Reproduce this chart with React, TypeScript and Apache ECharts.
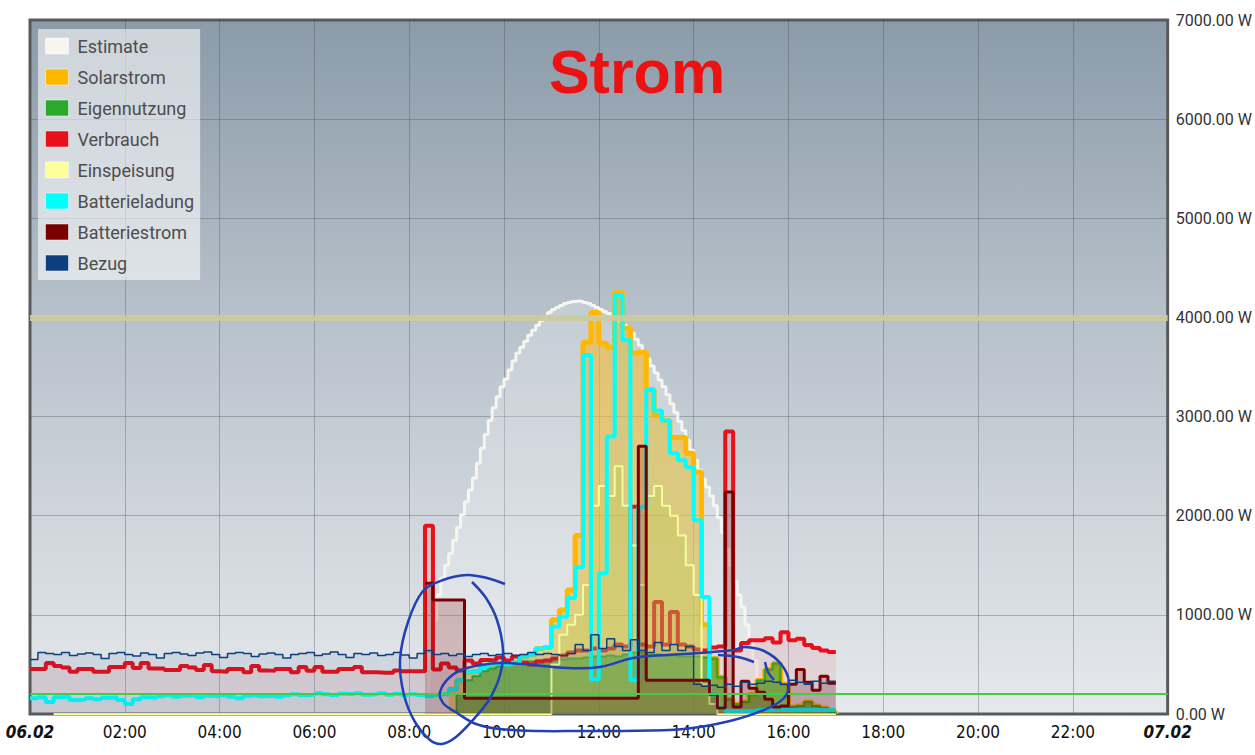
import React, { useEffect, useRef } from "react";
import * as echarts from "echarts";

// 10-minute slots from 00:00 (index k -> k/6 h)
const verbrauch = [
  455, 455, 515, 485, 470, 425, 455, 455, 425, 425,
  475, 475, 515, 465, 515, 460, 460, 445, 445, 485,
  470, 445, 495, 430, 425, 455, 455, 420, 485, 440,
  435, 455, 455, 420, 475, 435, 475, 425, 425, 455,
  455, 475, 420, 420, 415, 415, 440, 430, 430, 430,
  1900, 450, 510, 470, 440, 540, 510, 545, 540, 570,
  540, 580, 520, 500, 530, 540, 560, 590, 620, 640,
  640, 660, 640, 660, 700, 680, 2090, 700, 680, 1130,
  700, 1030, 700, 680, 650, 640, 670, 680, 2850, 640,
  715, 745, 745, 765, 720, 825, 745, 760, 695, 665,
  640, 625, 625,
];

const bezug = [
  550, 620, 610, 600, 620, 590, 605, 615, 600, 560,
  610, 620, 600, 585, 615, 600, 565, 610, 620, 605,
  590, 615, 625, 600, 570, 610, 620, 610, 580, 605,
  615, 600, 565, 600, 610, 620, 590, 605, 625, 600,
  570, 610, 600, 615, 590, 600, 620, 595, 565, 610,
  640, 600, 610, 590, 605, 580, 600, 610, 590, 600,
  610, 590, 600, 620, 600, 610, 600, 590, 610, 700,
  640, 800, 660, 760, 680, 640, 750, 640, 620, 720,
  640, 700, 640, 680, 300, 280, 290, 270, 300, 280,
  320, 300, 310, 330, 320, 300, 340, 320, 300, 330,
  310, 330, 330,
];

const batterieladung = [
  160, 170, 120, 170, 175, 140, 145, 160, 150, 165,
  170, 140, 100, 150, 170, 165, 180, 190, 175, 185,
  190, 170, 185, 180, 190, 175, 160, 185, 190, 180,
  185, 175, 190, 200, 190, 195, 210, 200, 190, 205,
  200, 210, 195, 200, 210, 195, 205, 190, 200, 190,
  180, 190, 200, 250, 340, 420, 430, 475, 500, 510,
  500, 520, 580, 600, 660, 670, 880, 980, 1170, 1480,
  3620, 350, 1420, 2800, 4220, 3770, 340, 2090, 3270, 3060,
  2960, 2630, 2560, 2490, 1955, 1180, 200, 60, 30, 30,
  30, 30, 40, 40, 40, 40, 40, 40, 40, 40,
  40, 40, 40,
];

// starts at slot 3 (00:30)
const eigennutzung = [
  0, 0, 0, 0, 0, 0, 0, 0, 0, 0, 0, 0, 0, 0, 0, 0, 0, 0, 0, 0,
  0, 0, 0, 0, 0, 0, 0, 0, 0, 0, 0, 0, 0, 0, 0, 0, 0, 0, 0, 0,
  0, 0, 0, 0, 0, 0, 0, 0, 0, 0, 0,
  200, 340, 380, 430, 460, 480, 500, 510, 520, 530,
  540, 540, 550, 550, 560, 560, 570, 580, 580, 590,
  580, 600, 620, 620, 600, 600, 590, 590, 580, 580,
  580, 570, 560, 370, 150, 100, 120, 200, 340, 450,
  510, 300, 70, 80, 120, 80, 60, 20, 0,
];

// starts at slot 3 (00:30)
const einspeisung = [
  0, 0, 0, 0, 0, 0, 0, 0, 0, 0, 0, 0, 0, 0, 0, 0, 0, 0, 0, 0,
  0, 0, 0, 0, 0, 0, 0, 0, 0, 0, 0, 0, 0, 0, 0, 0, 0, 0, 0, 0,
  0, 0, 0, 0, 0, 0, 0, 0, 0, 0, 0, 0, 0, 0, 0, 0, 0, 0, 0, 0,
  0, 0, 0,
  500, 800, 900, 1000, 1300, 2100, 2300, 2200, 2500, 2100,
  1700, 1300, 2200, 2300, 2100, 2000, 1800, 1500, 1200, 300,
  100, 0, 0, 0, 0, 0, 0, 0, 0, 0, 0, 0, 0, 0, 0, 0, 0,
];

// starts at slot 53 (08:50)
const solarstrom = [
  250, 340, 420, 430, 475, 500, 510,
  500, 520, 580, 600, 660, 670, 950, 1050, 1250, 1800,
  3750, 4050, 3740, 3700, 4250, 3890, 3640, 3650, 3270, 3010,
  2960, 2790, 2790, 2630, 2440, 900, 560, 370, 150, 100,
  120, 200, 340, 450, 510, 300, 70, 80, 120, 80,
  60, 20, 0,
];

// starts at slot 50 (08:20)
const batteriestrom = [
  1320, 1150, 1150, 1150, 1150, 160, 160, 160, 160, 160,
  160, 160, 160, 160, 160, 160, 160, 160, 160, 160,
  160, 160, 160, 160, 160, 160, 160, 2700, 340, 340,
  340, 340, 340, 340, 340, 340, 200, 60, 2240, 70,
  330, 260, 220, 150, 70, 80, 300, 450, 320, 240,
  380, 310, 310,
];

// 5-minute slots starting 08:20
const estimate = [
  200, 600, 950, 1200, 1370, 1500, 1620, 1750, 1880, 2010,
  2140, 2260, 2380, 2530, 2680, 2820, 2960, 3090, 3200, 3300,
  3380, 3470, 3560, 3640, 3700, 3760, 3820, 3870, 3920, 3970,
  4010, 4050, 4080, 4100, 4120, 4140, 4150, 4160, 4165, 4160,
  4150, 4140, 4120, 4100, 4080, 4060, 4040, 4010, 3990, 3960,
  3920, 3880, 3840, 3780, 3720, 3650, 3580, 3510, 3440, 3370,
  3300, 3220, 3130, 3040, 2950, 2860, 2760, 2660, 2560, 2460,
  2370, 2290, 2200, 2100, 1980, 1830, 1660, 1500, 1340, 1200,
  1080, 900, 720, 540, 360, 180, 60, 0,
];

const yTicks = [0, 1000, 2000, 3000, 4000, 5000, 6000, 7000];
const xTickHours = [0, 2, 4, 6, 8, 10, 12, 14, 16, 18, 20, 22, 24];
const dateLabels = ["06.02", "07.02"];

const scribbles: number[][][] = [
  [[505, 584], [487, 578], [467, 575], [443, 580], [423, 591], [408, 622], [400, 660], [404, 695], [415, 722], [430, 740], [442, 744], [456, 737], [472, 721], [489, 700], [500, 675], [503, 650], [497, 620], [486, 598], [472, 582]],
  [[735, 650], [700, 653], [667, 655], [633, 658], [600, 667], [567, 668], [533, 665], [500, 663], [467, 668], [450, 677], [440, 692], [443, 703], [457, 713], [476, 724], [500, 729], [540, 731], [580, 731], [620, 731], [684, 729], [730, 721], [764, 710], [784, 698], [789, 682], [781, 664], [764, 651], [745, 647], [735, 650]],
  [[718, 655], [738, 657], [754, 662]],
  [[765, 662], [768, 672], [774, 680]],
];

const pairs = (start: number, step: number, vals: number[]) =>
  vals.map((v, i) => [start + i * step, v]);

const H10 = 1 / 6;
const H5 = 1 / 12;

const FONT = "Roboto, 'Noto Sans', sans-serif";
const NARROW = "'Liberation Sans Narrow', 'DejaVu Sans Condensed', Roboto, sans-serif";

const seriesDefs = [
  { name: "Estimate", color: "#f6f6f0", width: 3, area: "rgba(255,255,255,0.30)", data: pairs(100 * H5, H5, estimate) },
  { name: "Solarstrom", color: "#ffb700", width: 5, area: "rgba(255,178,0,0.65)", data: pairs(53 * H10, H10, solarstrom) },
  { name: "Eigennutzung", color: "#2aaa2a", width: 2, area: "rgba(38,168,38,0.85)", data: pairs(3 * H10, H10, eigennutzung) },
  { name: "Verbrauch", color: "#e8101a", width: 4, area: "rgba(225,20,30,0.12)", data: pairs(0, H10, verbrauch) },
  { name: "Einspeisung", color: "#ffff99", width: 2, area: "rgba(200,200,80,0.50)", data: pairs(3 * H10, H10, einspeisung) },
  { name: "Batterieladung", color: "#00ffff", width: 4, area: "rgba(0,220,230,0.08)", data: pairs(0, H10, batterieladung) },
  { name: "Batteriestrom", color: "#7a0000", width: 3, area: "rgba(128,0,0,0.30)", data: pairs(50 * H10, H10, batteriestrom) },
  { name: "Bezug", color: "#0d3f7e", width: 1.5, area: "rgba(13,63,126,0.12)", data: pairs(0, H10, bezug) },
];

export default function App() {
  const ref = useRef<HTMLDivElement>(null);
  useEffect(() => {
    if (!ref.current) return;
    const chart = echarts.init(ref.current, undefined, { renderer: "svg" });
    const series: any[] = seriesDefs.map((s, i) => ({
      name: s.name,
      type: "line",
      step: "end",
      symbol: "none",
      data: s.data,
      lineStyle: { color: s.color, width: s.width },
      itemStyle: { color: s.color },
      areaStyle: { color: s.area },
      silent: true,
      z: 2 + i * 0.01,
    }));
    series[0].markLine = {
      silent: true,
      symbol: "none",
      label: { show: false },
      data: [
        { yAxis: 4000, lineStyle: { color: "#cbcb9c", width: 6, type: "solid", opacity: 0.95 } },
        { yAxis: 200, lineStyle: { color: "#44cc44", width: 2, type: "solid" } },
      ],
    };
    chart.setOption({
      animation: false,
      grid: {
        left: 30,
        right: 83,
        top: 20,
        bottom: 41,
        show: true,
        borderColor: "#5c5c5c",
        borderWidth: 3,
        backgroundColor: {
          type: "linear", x: 0, y: 0, x2: 0, y2: 1,
          colorStops: [
            { offset: 0, color: "#8b9ba9" },
            { offset: 0.45, color: "#b9c3cc" },
            { offset: 1, color: "#e6e9ec" },
          ],
        },
      },
      legend: {
        orient: "vertical",
        left: 38,
        top: 29,
        padding: [8, 6, 8, 7],
        itemWidth: 23,
        itemHeight: 16,
        itemGap: 13,
        backgroundColor: "rgba(255,255,255,0.57)",
        icon: "rect",
        selectedMode: false,
        textStyle: { fontFamily: FONT, fontSize: 18, color: "#4d4d4d", lineHeight: 17, padding: [0, 0, 0, 4] },
        data: seriesDefs.map((s) => ({ name: s.name, itemStyle: { color: s.color, borderColor: "rgba(255,255,255,0.5)", borderWidth: 1 } })),
      },
      xAxis: {
        type: "value",
        min: 0,
        max: 24,
        interval: 2,
        axisLine: { show: false },
        axisTick: { show: false },
        splitLine: { show: true, lineStyle: { color: "rgba(70,80,90,0.35)", width: 1 } },
        axisLabel: {
          margin: 9,
          showMinLabel: true,
          showMaxLabel: true,
          fontFamily: NARROW,
          fontSize: 17,
          color: "#111",
          formatter: (v: number) => {
            if (!xTickHours.includes(v)) return "";
            if (v === 0) return "{d|" + dateLabels[0] + "}";
            if (v === 24) return "{d|" + dateLabels[1] + "}";
            return (v < 10 ? "0" : "") + v + ":00";
          },
          rich: { d: { fontFamily: NARROW, fontSize: 17, fontWeight: "bold", fontStyle: "italic", color: "#111" } },
        },
      },
      yAxis: {
        type: "value",
        position: "right",
        min: 0,
        max: 7000,
        interval: 1000,
        axisLine: { show: false },
        axisTick: { show: false },
        splitLine: { show: true, lineStyle: { color: "rgba(70,80,90,0.35)", width: 1 } },
        axisLabel: {
          margin: 8,
          fontFamily: FONT,
          fontSize: 16,
          color: "#333",
          formatter: (v: number) => (yTicks.includes(v) ? v.toFixed(2) + " W" : ""),
        },
      },
      graphic: [
        {
          type: "text",
          x: 637,
          y: 72,
          z: 50,
          style: {
            text: "Strom",
            fill: "#ee1111",
            font: "bold 61px 'Liberation Sans', Arial, sans-serif",
            textAlign: "center",
            textVerticalAlign: "middle",
          },
        },
        ...scribbles.map((pts) => ({
          type: "polyline",
          z: 100,
          silent: true,
          shape: { points: pts, smooth: 0.35 },
          style: { stroke: "#2141b4", lineWidth: 2.5, fill: null },
        })),
      ],
      series,
    });
    return () => chart.dispose();
  }, []);
  return <div ref={ref} style={{ position: "absolute", left: 0, top: 0, width: 1255, height: 755 }} />;
}
